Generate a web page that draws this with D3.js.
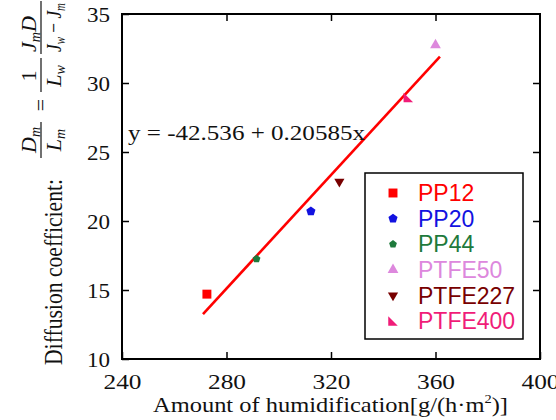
<!DOCTYPE html>
<html lang="en">
<head>
    <meta charset="utf-8">
    <title>Diffusion coefficient vs humidification</title>
    <script src="https://d3js.org/d3.v7.min.js"></script>
    <style>
        body { margin: 0; background: #fff; }
        svg { display: block; }
        .tick line { stroke: #000; stroke-width: 1.5; }
    </style>
</head>
<body>
<div id="chart"></div>
<script>
    // data
    const series = ["PP12", "PP20", "PP44", "PTFE50", "PTFE227", "PTFE400"];
    const humid = [272.5, 312.3, 291.5, 360.0, 323.2, 349.6];
    const diffusion = [14.7, 20.7, 17.25, 32.75, 22.85, 28.95];
    const colors = ["#ff0000", "#1212e0", "#1e7a3c", "#dd88dd", "#780000", "#f01c78"];
    const xTicks = [240, 280, 320, 360, 400];
    const yTicks = [10, 15, 20, 25, 30, 35];
    const fitA = -42.536, fitB = 0.20585;
    const fitRange = [271, 361.7];

    const width = 556, height = 420;
    const margin = {top: 14, right: 16, bottom: 61, left: 122};
    const serif = "Liberation Serif, Times New Roman, serif";

    const svg = d3.select("#chart").append("svg")
        .attr("width", width).attr("height", height);

    const x = d3.scaleLinear().domain([240, 400]).range([margin.left, width - margin.right]);
    const y = d3.scaleLinear().domain([10, 35]).range([height - margin.bottom, margin.top]);

    const tick = 7;
    const labelFont = g => g.attr("font-family", serif).attr("font-size", 22)
        .call(g => g.selectAll("text").attr("fill", "#111"));

    // bottom axis with labels
    svg.append("g")
        .attr("transform", `translate(0,${y(10)})`)
        .call(d3.axisBottom(x).tickValues(xTicks).tickSizeInner(-tick).tickSizeOuter(0).tickPadding(14))
        .call(labelFont)
        .call(g => g.select(".domain").remove())
        .call(g => g.selectAll("text").attr("textLength", 38).attr("lengthAdjust", "spacingAndGlyphs"));

    // top axis (ticks only)
    svg.append("g")
        .attr("transform", `translate(0,${y(35)})`)
        .call(d3.axisTop(x).tickValues(xTicks.slice(1, -1)).tickSizeInner(-tick).tickSizeOuter(0).tickFormat(""))
        .call(g => g.select(".domain").remove());

    // left axis with labels
    svg.append("g")
        .attr("transform", `translate(${x(240)},0)`)
        .call(d3.axisLeft(y).tickValues(yTicks).tickSizeInner(-tick).tickSizeOuter(0).tickPadding(12))
        .call(labelFont)
        .call(g => g.select(".domain").remove())
        .call(g => g.selectAll("text").attr("textLength", 23).attr("lengthAdjust", "spacingAndGlyphs"));

    // right axis (ticks only)
    svg.append("g")
        .attr("transform", `translate(${x(400)},0)`)
        .call(d3.axisRight(y).tickValues(yTicks.slice(1, -1)).tickSizeInner(-tick).tickSizeOuter(0).tickFormat(""))
        .call(g => g.select(".domain").remove());

    // frame
    svg.append("rect")
        .attr("x", x(240)).attr("y", y(35))
        .attr("width", x(400) - x(240)).attr("height", y(10) - y(35))
        .attr("fill", "none").attr("stroke", "#000").attr("stroke-width", 2);

    // fit line
    const fitLine = d3.line().x(d => x(d)).y(d => y(fitA + fitB * d));
    svg.append("path")
        .attr("d", fitLine(fitRange))
        .attr("fill", "none").attr("stroke", "#ff0000").attr("stroke-width", 2.6);

    // marker shapes
    const pentagon = {
        draw(ctx, size) {
            const r = Math.sqrt(size / 2.38);
            for (let i = 0; i < 5; i++) {
                const a = -Math.PI / 2 + i * 2 * Math.PI / 5;
                if (i === 0) ctx.moveTo(r * Math.cos(a), r * Math.sin(a));
                else ctx.lineTo(r * Math.cos(a), r * Math.sin(a));
            }
            ctx.closePath();
        }
    };
    const cornerTri = {
        draw(ctx, size) {
            const s = Math.sqrt(size * 2) / 2;
            ctx.moveTo(-s, -s);
            ctx.lineTo(-s, s);
            ctx.lineTo(s, s);
            ctx.closePath();
        }
    };
    const shapes = [
        d3.symbol(d3.symbolSquare, 80),
        d3.symbol(pentagon, 55),
        d3.symbol(pentagon, 40),
        d3.symbol(d3.symbolTriangle, 50),
        d3.symbol(d3.symbolTriangle, 45),
        d3.symbol(cornerTri, 45)
    ];
    const rot = [0, 0, 0, 0, 180, 0];

    svg.append("g").selectAll("path")
        .data(series)
        .join("path")
        .attr("d", (d, i) => shapes[i]())
        .attr("transform", (d, i) => `translate(${x(humid[i])},${y(diffusion[i])}) rotate(${rot[i]})`)
        .attr("fill", (d, i) => colors[i]);

    // equation
    svg.append("text")
        .attr("x", 128).attr("y", 140)
        .attr("font-family", serif).attr("font-size", 22)
        .attr("fill", "#111")
        .attr("textLength", 237).attr("lengthAdjust", "spacingAndGlyphs")
        .text("y = -42.536 + 0.20585x");

    // legend
    const legend = svg.append("g");
    legend.append("rect")
        .attr("x", 365).attr("y", 173).attr("width", 158).attr("height", 166)
        .attr("fill", "#fff").attr("stroke", "#000").attr("stroke-width", 1.5);
    const rowY = d3.scaleLinear().domain([0, series.length - 1]).range([193, 321]);
    const items = legend.selectAll("g.item")
        .data(series)
        .join("g")
        .attr("class", "item")
        .attr("transform", (d, i) => `translate(393,${rowY(i)})`);
    items.append("path")
        .attr("d", (d, i) => shapes[i]())
        .attr("transform", (d, i) => `rotate(${rot[i]})`)
        .attr("fill", (d, i) => colors[i]);
    items.append("text")
        .attr("x", 25).attr("dy", "0.36em")
        .attr("font-family", "Liberation Sans, Arial, sans-serif").attr("font-size", 23)
        .attr("fill", (d, i) => colors[i])
        .text(d => d);

    // x axis title
    const xt = svg.append("text")
        .attr("x", 153).attr("y", 412)
        .attr("font-family", serif).attr("font-size", 22)
        .attr("fill", "#111")
        .attr("textLength", 355).attr("lengthAdjust", "spacingAndGlyphs");
    xt.append("tspan").text("Amount of humidification[g/(h\u00b7m");
    xt.append("tspan").attr("font-size", 13).attr("dy", -9).text("2");
    xt.append("tspan").attr("dy", 9).text(")]");

    // y axis title, rotated; local x = -screenY, local y = screenX
    const yt = svg.append("g")
        .attr("transform", "rotate(-90)")
        .attr("font-family", serif)
        .attr("fill", "#111");
    yt.append("text")
        .attr("x", -365).attr("y", 62)
        .attr("font-size", 25)
        .attr("textLength", 186).attr("lengthAdjust", "spacingAndGlyphs")
        .text("Diffusion coefficient:");

    function frac(cx, num, den, anchor, lens) {
        [[num, 36], [den, 61]].forEach(([parts, yy], k) => {
            const t = yt.append("text").attr("x", cx).attr("y", yy)
                .attr("font-size", 22).attr("text-anchor", anchor);
            if (lens) t.attr("textLength", lens[k]).attr("lengthAdjust", "spacingAndGlyphs");
            parts.forEach(p => t.append("tspan")
                .attr("font-style", p.i ? "italic" : null)
                .attr("font-size", p.s ? 14 : null)
                .attr("dy", p.s ? 4 : (p.b ? -4 : null))
                .text(p.t));
        });
    }
    const bar = (a, b) => yt.append("line").attr("x1", a).attr("x2", b).attr("y1", 41).attr("y2", 41)
        .attr("stroke", "#111").attr("stroke-width", 1.2);

    // D_m / L_m
    frac(-140, [{t: "D", i: 1}, {t: "m", i: 1, s: 1}], [{t: "L", i: 1}, {t: "m", i: 1, s: 1}], "middle");
    bar(-158, -122);
    yt.append("text").attr("x", -105).attr("y", 48).attr("font-size", 22)
        .attr("text-anchor", "middle").text("=");
    // 1 / L_w
    frac(-76, [{t: "1"}], [{t: "L", i: 1}, {t: "w", i: 1, s: 1}], "middle");
    bar(-92, -58);
    // J_m D / (J_w - J_m)
    frac(-52, [{t: "J", i: 1}, {t: "m", i: 1, s: 1}, {t: "D", i: 1, b: 1}],
        [{t: "J", i: 1}, {t: "w", i: 1, s: 1}, {t: " \u2212 ", b: 1}, {t: "J", i: 1}, {t: "m", i: 1, s: 1}],
        "start", [36, 49]);
    bar(-54, -1);
</script>
</body>
</html>
